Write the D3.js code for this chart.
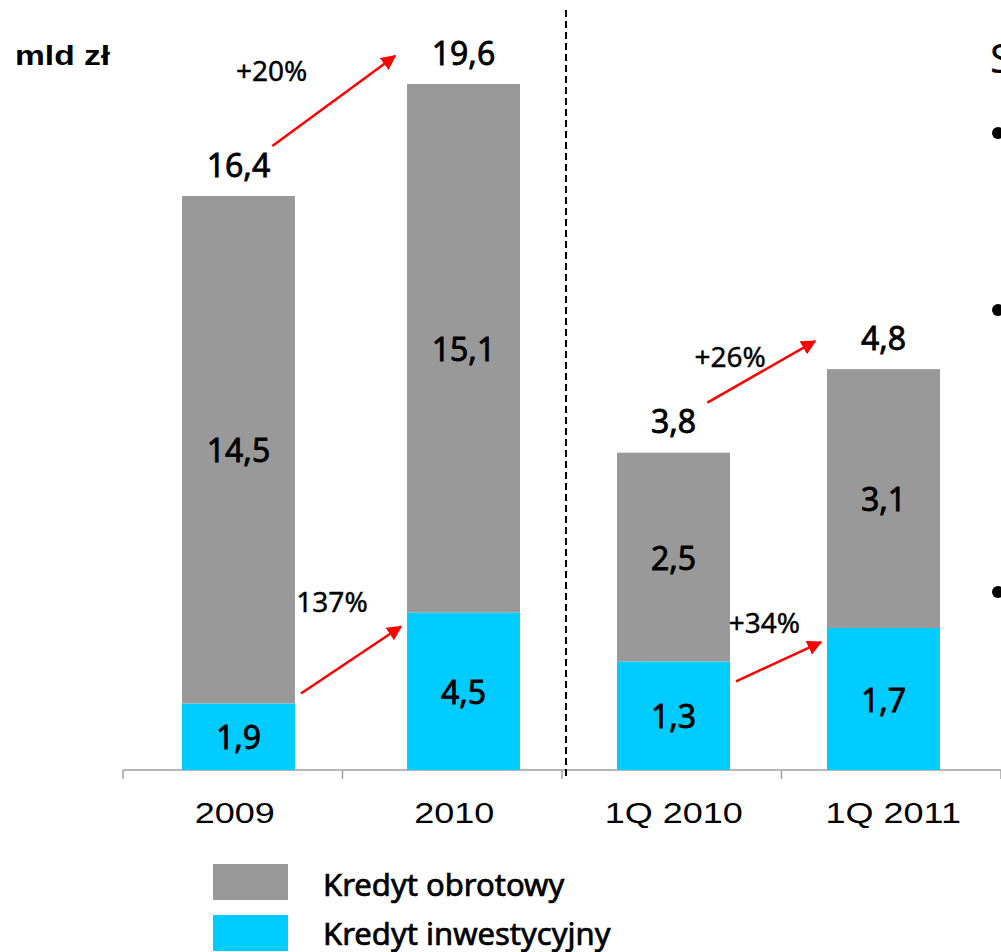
<!DOCTYPE html>
<html>
<head>
<meta charset="utf-8">
<script src="https://cdn.jsdelivr.net/npm/d3@7"></script>
<style>
  body { margin: 0; background: #fff; }
  svg { display: block; }
  .val { font-family: "Noto Sans", sans-serif; font-size: 32px; fill: #000; stroke: #000; stroke-width: 0.8px; }
  .pct { font-family: "Noto Sans", sans-serif; font-size: 28px; fill: #000; stroke: #000; stroke-width: 0.4px; }
  .cat { font-family: "Liberation Sans", Arial, sans-serif; font-size: 30px; fill: #000; }
  .leg { font-family: "Noto Sans", sans-serif; font-size: 31px; fill: #000; stroke: #000; stroke-width: 0.7px; }
</style>
</head>
<body>
<div id="chart"></div>
<script>
// data
const categories = ["2009", "2010", "1Q 2010", "1Q 2011"];
const panels = ["year", "year", "quarter", "quarter"];
const obrotowy = [14.5, 15.1, 2.5, 3.1];
const inwestycyjny = [1.9, 4.5, 1.3, 1.7];
const totals = [16.4, 19.6, 3.8, 4.8];
// growth arrows: [from index, to index, label]
const growthTotal = [[0, 1, "+20%"], [2, 3, "+26%"]];
const growthInw = [[0, 1, "137%"], [2, 3, "+34%"]];
const seriesNames = ["Kredyt obrotowy", "Kredyt inwestycyjny"];
const colors = ["#999999", "#00ccff"];

let width = 1001,
    height = 952,
    base = 770;

let svg = d3.select("#chart").append("svg")
  .attr("width", width)
  .attr("height", height);

svg.append("defs").append("marker")
  .attr("id", "arrow")
  .attr("viewBox", "0 0 10 10")
  .attr("refX", 9)
  .attr("refY", 5)
  .attr("markerWidth", 6)
  .attr("markerHeight", 6)
  .attr("markerUnits", "strokeWidth")
  .attr("orient", "auto")
  .append("path")
    .attr("d", "M0,0 L10,5 L0,10 z")
    .attr("fill", "#ff0000");

// bar positions, one band scale per panel
let xPanel = {
  year: d3.scaleBand().domain(categories.slice(0, 2)).range([182, 520]).paddingInner(0.498),
  quarter: d3.scaleBand().domain(categories.slice(2)).range([617, 940]).paddingInner(0.462)
};
let xOf = i => xPanel[panels[i]](categories[i]);
let bw = xPanel.year.bandwidth();

// category slots for axis ticks and labels
let xb = d3.scaleBand()
  .domain(categories)
  .range([123, 1001])
  .padding(0);

// the two panels use their own value scale
let yScales = {
  year: d3.scaleLinear().domain([0, 22]).range([base, 0]),
  quarter: d3.scaleLinear().domain([0, 9.22]).range([base, 0])
};
let yOf = (i, v) => yScales[panels[i]](v);

let rows = categories.map((c, i) => ({ i: i, inw: inwestycyjny[i], obr: obrotowy[i] }));
let stack = d3.stack().keys(["inw", "obr"]);
let layers = stack(rows);

// axis line and ticks
svg.append("line")
  .attr("x1", xb.range()[0]).attr("x2", xb.range()[1])
  .attr("y1", base).attr("y2", base)
  .attr("stroke", "#a0a0a0").attr("stroke-width", 1.5);

let tickXs = categories.map(c => xb(c)).concat([xb.range()[1]]);
svg.append("g").selectAll("line")
  .data(tickXs)
  .enter().append("line")
    .attr("x1", d => d).attr("x2", d => d)
    .attr("y1", base).attr("y2", base + 9)
    .attr("stroke", "#a0a0a0").attr("stroke-width", 1.5);

// bars
layers.forEach((layer, li) => {
  svg.append("g").selectAll("rect")
    .data(layer)
    .enter().append("rect")
      .attr("x", d => xOf(d.data.i))
      .attr("width", bw)
      .attr("y", d => yOf(d.data.i, d[1]))
      .attr("height", d => yOf(d.data.i, d[0]) - yOf(d.data.i, d[1]))
      .attr("fill", colors[1 - li]);

  svg.append("g").selectAll("text")
    .data(layer)
    .enter().append("text")
      .attr("class", "val")
      .attr("x", d => xOf(d.data.i) + bw / 2)
      .attr("y", d => (yOf(d.data.i, d[0]) + yOf(d.data.i, d[1])) / 2)
      .attr("text-anchor", "middle")
      .attr("dominant-baseline", "central")
      .text(d => d3.format(".1f")(d[1] - d[0]).replace(".", ","));
});

// totals
svg.append("g").selectAll("text")
  .data(totals)
  .enter().append("text")
    .attr("class", "val")
    .attr("x", (d, i) => xOf(i) + bw / 2)
    .attr("y", (d, i) => yOf(i, d) - 32)
    .attr("text-anchor", "middle")
    .attr("dominant-baseline", "central")
    .text(d => d3.format(".1f")(d).replace(".", ","));

// category labels
svg.append("g").selectAll("text")
  .data(categories)
  .enter().append("text")
    .attr("class", "cat")
    .attr("transform", d => `translate(${xb(d) + xb.bandwidth() / 2 + 2},813) scale(1.2,1)`)
    .attr("text-anchor", "middle")
    .attr("dominant-baseline", "central")
    .text(d => d);

// panel divider
svg.append("line")
  .attr("x1", xb("1Q 2010") + 4).attr("x2", xb("1Q 2010") + 4)
  .attr("y1", 10).attr("y2", 776)
  .attr("stroke", "#000").attr("stroke-width", 2)
  .attr("stroke-dasharray", "7,4");

// growth arrows
function drawArrow(p, lbl, off) {
  svg.append("line")
    .attr("x1", p[0]).attr("y1", p[1])
    .attr("x2", p[2]).attr("y2", p[3])
    .attr("stroke", "#ff0000").attr("stroke-width", 2.5)
    .attr("marker-end", "url(#arrow)");
  svg.append("text")
    .attr("class", "pct")
    .attr("x", (p[0] + p[2]) / 2 + off[0])
    .attr("y", (p[1] + p[3]) / 2 + off[1])
    .attr("text-anchor", "middle")
    .attr("dominant-baseline", "central")
    .text(lbl);
}

let totalOffsets = [[-62, -31], [-31, -16]];
growthTotal.forEach(([a, b, lbl], k) => {
  drawArrow([
    xOf(a) + bw * 0.8, yOf(a, totals[a]) - 50,
    xOf(b) - 12, yOf(b, totals[b]) - 28
  ], lbl, totalOffsets[k]);
});

let inwOffsets = [[-19, -59], [-14, -40]];
growthInw.forEach(([a, b, lbl], k) => {
  drawArrow([
    xOf(a) + bw + 6, yOf(a, inwestycyjny[a]) - 10 + k * 30,
    xOf(b) - 6, yOf(b, inwestycyjny[b]) + 14
  ], lbl, inwOffsets[k]);
});

// unit label
svg.append("text")
  .attr("transform", "translate(15,55) scale(1.2,1)")
  .attr("dominant-baseline", "central")
  .attr("font-family", "Liberation Sans, Arial, sans-serif")
  .attr("font-weight", "bold")
  .attr("font-size", 28)
  .text("mld zł");

// legend
let legend = svg.append("g");
seriesNames.forEach((name, i) => {
  legend.append("rect")
    .attr("x", 213).attr("y", 864 + i * 51)
    .attr("width", 75).attr("height", 36)
    .attr("fill", colors[i]);
  legend.append("text")
    .attr("class", "leg")
    .attr("x", 323).attr("y", 884 + i * 49)
    .attr("dominant-baseline", "central")
    .text(name);
});

// cut-off side text of the slide
svg.append("text")
  .attr("x", 990).attr("y", 57)
  .attr("dominant-baseline", "central")
  .attr("font-family", "Noto Sans, sans-serif")
  .attr("font-size", 40)
  .text("S");
svg.append("g").selectAll("circle")
  .data([133, 310, 592])
  .enter().append("circle")
    .attr("cx", 998).attr("cy", d => d)
    .attr("r", 6)
    .attr("fill", "#000");
</script>
</body>
</html>
